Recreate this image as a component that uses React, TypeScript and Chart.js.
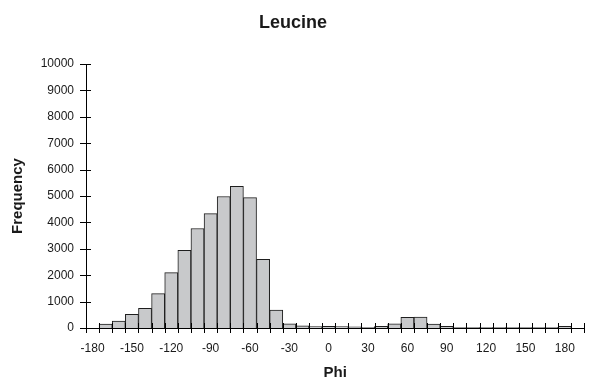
import React, { useEffect, useRef } from "react";
import { Chart, registerables } from "chart.js";

Chart.register(...registerables);

const categories: string[] = [
  "-180", "-170", "-160", "-150", "-140", "-130", "-120", "-110", "-100", "-90",
  "-80", "-70", "-60", "-50", "-40", "-30", "-20", "-10", "0", "10",
  "20", "30", "40", "50", "60", "70", "80", "90", "100", "110",
  "120", "130", "140", "150", "160", "170", "180", "More",
];

const frequency: number[] = [
  0, 150, 265, 520, 745, 1300, 2095, 2945, 3770, 4330,
  4980, 5370, 4940, 2600, 680, 160, 80, 50, 60, 50,
  40, 30, 60, 160, 400, 410, 150, 60, 20, 15,
  15, 15, 15, 15, 20, 30, 60, 0,
];

const yTicks = { min: 0, max: 10000, step: 1000 };

const crossTicks = {
  id: "crossTicks",
  afterDraw(chart: any) {
    const { ctx } = chart;
    const xs = chart.scales.x;
    const ys = chart.scales.y;
    ctx.save();
    ctx.strokeStyle = "#000";
    ctx.lineWidth = 1;
    ctx.beginPath();
    const n = xs.ticks.length;
    const w = (xs.right - xs.left) / n;
    for (let i = 0; i <= n; i++) {
      const px = Math.round(xs.left + i * w) + 0.5;
      ctx.moveTo(px, xs.top - 5);
      ctx.lineTo(px, xs.top + 5);
    }
    ys.ticks.forEach((_t: any, i: number) => {
      const py = Math.round(ys.getPixelForTick(i)) + 0.5;
      ctx.moveTo(ys.right - 6, py);
      ctx.lineTo(ys.right + 5, py);
    });
    ctx.stroke();
    ctx.restore();
  },
};

export default function App() {
  const ref = useRef<HTMLCanvasElement | null>(null);

  useEffect(() => {
    if (!ref.current) return;
    const chart = new Chart(ref.current, {
      type: "bar",
      data: {
        labels: categories,
        datasets: [
          {
            data: frequency,
            backgroundColor: "#c8c9cb",
            borderColor: "#1e1e1e",
            borderWidth: 1,
            barPercentage: 1,
            categoryPercentage: 1,
          },
        ],
      },
      options: {
        responsive: false,
        animation: false,
        devicePixelRatio: 1,
        layout: { padding: { top: 0, left: 0, right: 5, bottom: 0 } },
        plugins: {
          legend: { display: false },
          tooltip: { enabled: false },
          title: {
            display: true,
            text: "Leucine",
            color: "#1a1a1a",
            font: { family: "Liberation Sans", size: 18, weight: "bold" },
            padding: { top: 12.2, bottom: 30.2 },
          },
        },
        scales: {
          x: {
            type: "category",
            offset: true,
            grid: { display: false, drawTicks: false, offset: true },
            border: { display: true, color: "#000", width: 1 },
            ticks: {
              autoSkip: false,
              maxRotation: 0,
              minRotation: 0,
              padding: 13,
              color: "#1a1a1a",
              font: { family: "Liberation Sans", size: 12 },
              callback: (_v: any, idx: number) =>
                idx % 3 === 0 && idx <= 36 ? categories[idx] : "",
            },
            title: {
              display: true,
              text: "Phi",
              color: "#1a1a1a",
              font: { family: "Liberation Sans", size: 15, weight: "bold" },
              padding: { top: 0, bottom: 5 },
            },
            afterFit: (scale: any) => {
              scale.height = 59;
            },
          },
          y: {
            min: yTicks.min,
            max: yTicks.max,
            grid: { display: false, drawTicks: false },
            border: { display: true, color: "#000", width: 1 },
            ticks: {
              stepSize: yTicks.step,
              padding: 12,
              color: "#1a1a1a",
              font: { family: "Liberation Sans", size: 12 },
              callback: (v: any) => String(v),
            },
            title: {
              display: true,
              text: "Frequency",
              color: "#1a1a1a",
              font: { family: "Liberation Sans", size: 15, weight: "bold" },
              padding: { top: 9, bottom: 0 },
            },
            afterFit: (scale: any) => {
              scale.width = 86;
            },
          },
        },
      },
      plugins: [crossTicks],
    });
    return () => chart.destroy();
  }, []);

  return (
    <div
      style={{
        position: "fixed",
        left: 0,
        top: 0,
        width: 591,
        height: 387,
        background: "#fff",
      }}
    >
      <canvas ref={ref} width={591} height={387} style={{ display: "block" }} />
    </div>
  );
}
